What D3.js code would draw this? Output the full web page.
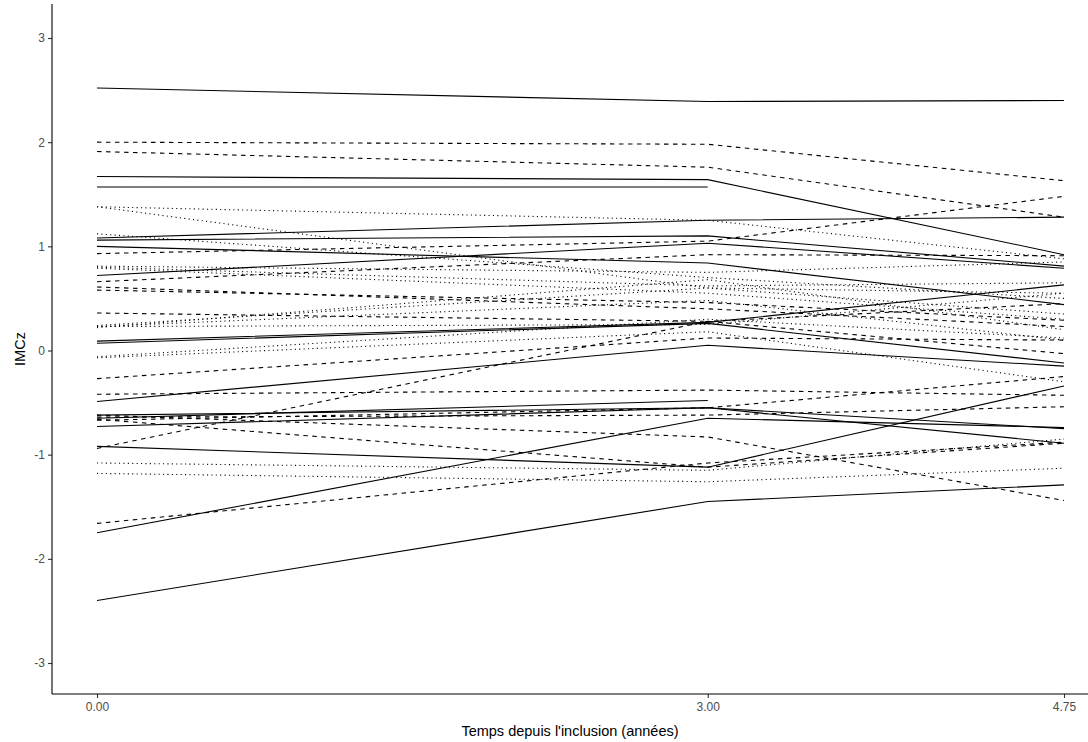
<!DOCTYPE html>
<html>
<head>
<meta charset="utf-8">
<script src="https://cdn.jsdelivr.net/npm/d3@7"></script>
<style>
  body { margin: 0; background: #fff; }
  text { font-family: "Liberation Sans", Arial, sans-serif; }
</style>
</head>
<body>
<div id="chart"></div>
<script>
// time points (years)
const times = [0, 3, 4.75];

// IMCz per subject at each time, by line type (null = no measure)
const solidLines = [
  [2.52, 2.39, 2.40],
  [1.67, 1.64, 0.92],
  [1.57, 1.57, null],
  [1.08, 1.25, 1.28],
  [1.06, 1.10, 0.81],
  [0.72, 1.03, 0.79],
  [1.00, 0.84, 0.44],
  [0.09, 0.27, 0.63],
  [0.07, 0.26, -0.12],
  [-0.49, 0.05, -0.15],
  [-0.65, -0.48, null],
  [-0.62, -0.55, -0.75],
  [-0.73, -0.55, -0.89],
  [-0.92, -1.12, -0.34],
  [-1.75, -0.65, -0.74],
  [-2.40, -1.45, -1.29]
];
const dashedLines = [
  [2.00, 1.98, 1.63],
  [1.91, 1.76, 1.28],
  [0.93, 1.05, 1.48],
  [0.66, 0.92, 0.91],
  [0.61, 0.40, 0.23],
  [0.58, 0.46, 0.29],
  [0.36, 0.28, -0.03],
  [-0.27, 0.12, 0.10],
  [-0.42, -0.38, -0.43],
  [-0.64, -0.62, -0.54],
  [-0.67, -0.55, -0.25],
  [-0.94, 0.28, 0.45],
  [-0.62, -0.83, -1.44],
  [-1.66, -1.08, -0.88],
  [-0.66, -1.12, -0.89]
];
const dottedLines = [
  [1.38, 1.25, 0.88],
  [1.38, 0.60, 0.55],
  [1.12, 0.70, 0.50],
  [0.81, 0.75, 0.85],
  [0.80, 0.62, 0.65],
  [0.79, 0.55, 0.30],
  [0.24, 0.60, 0.35],
  [0.23, 0.48, 0.10],
  [0.23, 0.25, 0.55],
  [0.22, 0.68, 0.20],
  [-0.06, 0.30, 0.12],
  [-0.07, 0.18, -0.30],
  [-1.08, -1.15, -0.85],
  [-1.18, -1.26, -1.13]
];

const yTicks = [-3, -2, -1, 0, 1, 2, 3];
const xTicks = [0, 3, 4.75];

let width = 1088;
let height = 742;

let svg = d3.select("#chart")
  .append("svg")
  .attr("width", width)
  .attr("height", height);

let x = d3.scaleLinear().domain([0, 4.75]).range([97, 1064]);
let y = d3.scaleLinear().domain([-3, 3]).range([663, 38]);

let panelLeft = 52, panelBottom = 694, panelTop = 4, panelRight = 1088;

let line = d3.line()
  .defined(d => d[1] != null)
  .x(d => x(d[0]))
  .y(d => y(d[1]));

function drawGroup(data, dash) {
  svg.append("g")
    .selectAll("path")
    .data(data)
    .join("path")
    .attr("d", d => line(d.map((v, i) => [times[i], v])))
    .attr("fill", "none")
    .attr("stroke", "#000")
    .attr("stroke-width", 1.1)
    .attr("stroke-dasharray", dash);
}
drawGroup(solidLines, null);
drawGroup(dashedLines, "4.5,4.5");
drawGroup(dottedLines, "1.1,3.3");

// axes
let yAxis = svg.append("g")
  .attr("transform", `translate(${panelLeft},0)`)
  .call(d3.axisLeft(y).tickValues(yTicks).tickFormat(d => String(d)).tickSize(4).tickPadding(3));
let xAxis = svg.append("g")
  .attr("transform", `translate(0,${panelBottom})`)
  .call(d3.axisBottom(x).tickValues(xTicks).tickFormat(d3.format(".2f")).tickSize(4).tickPadding(4));

[yAxis, xAxis].forEach(a => {
  a.select(".domain").remove();
  a.selectAll(".tick line").attr("stroke", "#333").attr("stroke-width", 1.1);
  a.selectAll(".tick text").attr("fill", "#4d4d4d").style("font-size", "12px");
});

svg.append("line")
  .attr("x1", panelLeft).attr("x2", panelLeft)
  .attr("y1", panelTop).attr("y2", panelBottom)
  .attr("stroke", "#000").attr("stroke-width", 1.1);
svg.append("line")
  .attr("x1", panelLeft).attr("x2", panelRight)
  .attr("y1", panelBottom).attr("y2", panelBottom)
  .attr("stroke", "#000").attr("stroke-width", 1.1);

// titles
svg.append("text")
  .attr("x", (panelLeft + panelRight) / 2)
  .attr("y", 736)
  .attr("text-anchor", "middle")
  .style("font-size", "14.5px")
  .text("Temps depuis l'inclusion (années)");

svg.append("text")
  .attr("transform", `translate(25,${(panelTop + panelBottom) / 2}) rotate(-90)`)
  .attr("text-anchor", "middle")
  .style("font-size", "14.5px")
  .text("IMCz");
</script>
</body>
</html>
